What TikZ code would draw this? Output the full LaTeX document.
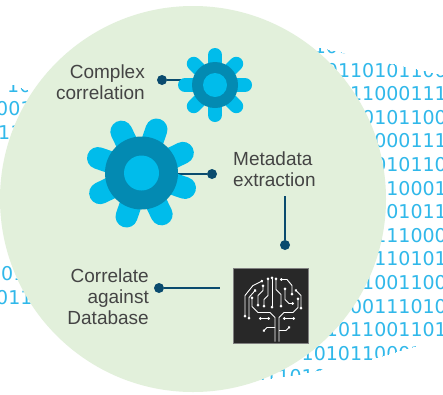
\documentclass[tikz,border=0pt]{standalone}
\usepackage{fontspec}
\setmainfont{Liberation Sans}
\newfontfamily\digitfont{DejaVu Sans}
\usepackage{tikz}
\usetikzlibrary{positioning,calc,arrows.meta}

\definecolor{discgreen}{RGB}{226,240,219}
\definecolor{bitblue}{RGB}{48,184,234}
\definecolor{petalblue}{RGB}{0,188,235}
\definecolor{ringblue}{RGB}{3,138,178}
\definecolor{linkblue}{RGB}{10,75,110}
\definecolor{labelgray}{RGB}{68,68,68}
\definecolor{chipdark}{RGB}{40,40,40}

\begin{document}
\begin{tikzpicture}[x=1pt,y=-1pt,
    bits/.style={font=\digitfont\fontsize{19}{20}\selectfont, text=bitblue, inner sep=0pt},
    caption/.style={font=\fontsize{19}{21}\selectfont, text=labelgray, inner sep=0pt},
    link/.style={draw=linkblue, line width=2pt},
    knob/.style={circle, fill=linkblue, inner sep=0pt, minimum size=10pt},
    petal/.style={draw=petalblue, line width=#1, line cap=round},
    trace/.style={draw=white, line width=0.9pt, line join=round, {Circle[length=2.6pt]}-{Circle[length=2.6pt]}}]

    \useasboundingbox (0,0) rectangle (443,394);
    \fill[white] (0,0) rectangle (443,394);

    % ribbon of binary digits behind the disc
    \begin{scope}
        \clip (-5,78) -- (45,97) -- (120,60) -- (300,43) -- (460,79) -- (460,333) -- (365,361)
              -- (300,374) -- (250,381) -- (150,385) -- (60,314) -- (-5,314) -- cycle;
        \foreach \b [count=\k from 0] in {110011010110,10110101100,011000111,10101100,
                01000111,1010110,110001,101011,0111000,0110101,11001100,000111010,
                01011001101,0101011000101,0110101100110101}
            \node[bits, anchor=base east] (r\k) at (447,{53.5+23.6*\k}) {\b};
        \foreach \x/\y/\b [count=\k] in {7/92/1011, -4/115.6/0011, -2/139.2/1101,
                1/280.8/0110, -4/304.4/0111}
            \node[bits, anchor=base west] (l\k) at (\x,\y) {\b};
    \end{scope}

    \fill[discgreen] (193,199) circle (193);

    \coordinate (sgear) at (215,85);
    \coordinate (bgear) at (141.5,173);
    \node[knob] (cdot) at (162,80) {};
    \node[knob] (mdot) at (212,174) {};
    \node[knob] (vdot) at (285,245) {};
    \node[knob] (ddot) at (159,288) {};
    \node[fill=chipdark, draw=gray, line width=1pt, minimum size=75pt, inner sep=0pt] (chip) at (271,305.5) {};
    \coordinate (vtop) at (285,196);
    \coordinate (dend) at ($(chip.west |- ddot)+(-13,0)$);

    \draw[link] (cdot) -- (cdot -| sgear);
    \draw[link] (mdot) -- (mdot -| bgear);
    \draw[link] (vtop) -- (vdot);
    \draw[link] (ddot) -- (dend);

    % gears
    \foreach \a in {0,45,...,315}
        \draw[petal=14pt] (sgear) -- ++(\a:30);
    \fill[ringblue] (sgear) circle (23);
    \fill[petalblue] (sgear) circle (12);
    \foreach \a in {19,64,...,334}
        \draw[petal=22pt] (bgear) -- ++(\a:46);
    \fill[ringblue] (bgear) circle (36.5);
    \fill[petalblue] (bgear) circle (17.5);

    % circuit brain
    \begin{scope}[shift={(chip.center)}]
        \draw[trace, {Circle[length=2.6pt]}-] (-19,-9) -- (-19,1) -- (-13,7) -- (-1,7) -- (4,12) -- (4,36);
        \draw[trace, {Circle[length=2.6pt]}-] (27,-8) -- (27,2) -- (22,7) -- (13,7) -- (8,12) -- (8,36);
        \draw[trace, -{Circle[length=2.6pt]}] (4,22) -- (-4,22) -- (-8,26);
        \draw[trace, -{Circle[length=2.6pt]}] (8,25) -- (15,25) -- (19,21);
        \draw[trace] (-26,12) -- (-26,-10) -- (-18,-20) -- (-8,-25);
        \draw[trace] (-22,14) -- (-22,-8) -- (-15,-16);
        \draw[trace] (-13,1) -- (-13,-10) -- (-8,-15) -- (-8,-21);
        \draw[trace] (-3,-28) -- (-3,-10) -- (-7,-6) -- (-7,2);
        \draw[trace] (1,-29) -- (1,3);
        \draw[trace] (5,-28) -- (5,-16) -- (10,-11) -- (10,2);
        \draw[trace] (9,-26) -- (16,-26) -- (21,-20) -- (21,-10);
        \draw[trace] (14,-18) -- (14,-6) -- (18,-2) -- (23,-2);
        \draw[trace] (24,-16) -- (30,-10) -- (30,4);
        \draw[trace] (-12,13) -- (-1,13);
        \draw[trace] (12,13) -- (24,13);
    \end{scope}

    \node[caption, align=right, anchor=north east] (clab) at (145,65) {Complex\\correlation};
    \node[caption, align=left, anchor=north west] (mlab) at (233,152) {Metadata\\extraction};
    \node[caption, align=right, anchor=north east] (dlab) at (149,269) {Correlate\\against\\Database};
\end{tikzpicture}
\end{document}
